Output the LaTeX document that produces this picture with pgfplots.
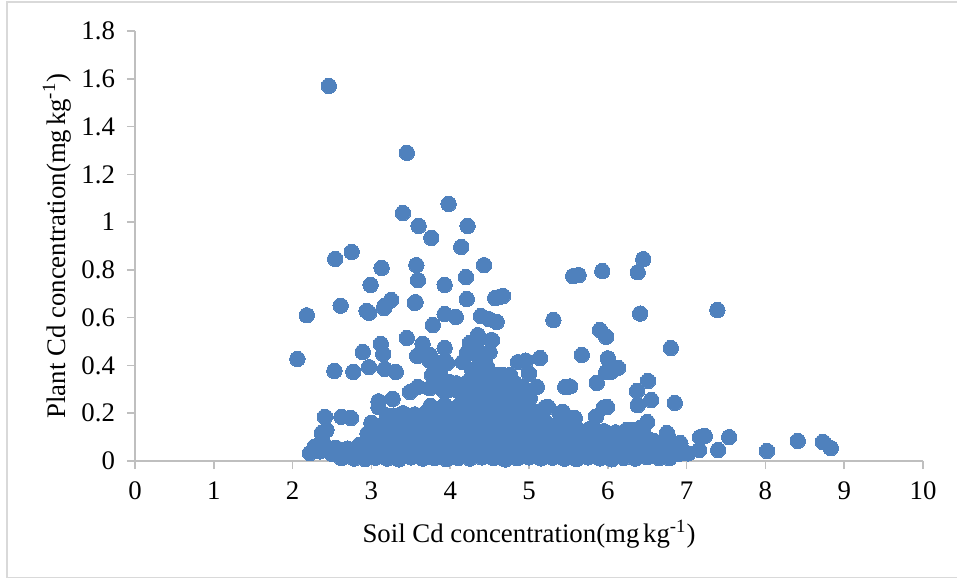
\documentclass[border=0pt]{standalone}
\usepackage{pgfplots}
\pgfplotsset{compat=1.18}
\usepackage{fontspec}
\setmainfont{Liberation Serif}
\definecolor{dot}{HTML}{4F81BD}
\definecolor{axc}{HTML}{BFBFBF}
\definecolor{frm}{HTML}{D9D9D9}
\begin{document}
\begin{tikzpicture}
\useasboundingbox (0pt,0pt) rectangle (478.5pt,289.5pt);
\draw[frm,line width=0.8pt] (478.5pt,288.5pt) -- (3.5pt,288.5pt) -- (3.5pt,0.75pt) -- (478.5pt,0.75pt);
\begin{axis}[
  at={(67.5pt,59pt)},anchor=origin,
  scale only axis,width=394pt,height=215pt,
  xmin=0,xmax=10,ymin=0,ymax=1.8,
  xtick={0,1,...,10},
  ytick={0,0.2,0.4,0.6,0.8,1,1.2,1.4,1.6,1.8},
  yticklabels={0,0.2,0.4,0.6,0.8,1,1.2,1.4,1.6,1.8},
  axis lines=left,
  axis line style={axc,line width=1pt,-},
  tick style={axc,line width=0.8pt},
  tick align=outside,
  major tick length=4pt,
  clip=false,
  /pgf/number format/assume math mode=true,
  tick label style={font=\fontsize{13.4}{15}\selectfont,black},
  xticklabel style={yshift=-3pt},
  yticklabel style={xshift=-2.5pt},
  xlabel={Soil Cd concentration(mg\hspace{0.14em}kg\textsuperscript{-1})},
  ylabel={Plant Cd concentration(mg\hspace{0.14em}kg\textsuperscript{-1})},
  label style={font=\fontsize{13.4}{15}\selectfont,black},
  x label style={at={(axis description cs:0.5,-0.17)},anchor=center},
  y label style={at={(axis description cs:-0.099,0.5)},anchor=center},
]
\addplot[only marks,color=dot,mark=*,mark size=3.85pt,mark options={solid,fill=dot,draw=dot,line width=0pt}] table {
x y
2.46 1.57
3.45 1.29
3.40 1.038
3.98 1.076
3.60 0.984
4.22 0.984
3.76 0.934
4.14 0.896
2.75 0.875
2.54 0.846
3.13 0.808
3.57 0.82
4.43 0.82
4.20 0.77
3.59 0.757
2.99 0.737
3.93 0.737
3.25 0.674
3.17 0.65
3.16 0.64
2.61 0.65
3.56 0.665
3.55 0.662
4.21 0.678
4.57 0.682
4.62 0.686
4.67 0.691
2.94 0.628
2.97 0.62
2.18 0.61
3.93 0.615
4.07 0.603
4.39 0.607
4.49 0.594
4.59 0.582
3.78 0.569
3.45 0.515
4.35 0.519
3.12 0.49
3.65 0.49
4.52 0.506
3.93 0.473
4.31 0.477
2.89 0.456
3.15 0.448
3.58 0.44
3.74 0.444
2.06 0.427
2.53 0.377
2.77 0.373
2.97 0.393
3.17 0.385
3.31 0.373
4.86 0.414
4.96 0.42
5.14 0.431
5.0 0.366
5.31 0.59
5.67 0.444
5.46 0.31
5.52 0.312
5.56 0.774
5.63 0.778
5.93 0.795
6.38 0.79
6.45 0.845
6.41 0.617
7.39 0.632
5.90 0.548
5.98 0.52
6.80 0.473
6.0 0.43
6.13 0.39
6.04 0.373
5.98 0.372
5.86 0.327
6.51 0.335
6.37 0.293
6.55 0.255
6.38 0.234
6.85 0.243
5.99 0.226
5.95 0.224
5.85 0.186
5.58 0.18
5.60 0.138
5.39 0.2
6.5 0.163
6.75 0.117
6.77 0.1
6.24 0.13
6.92 0.075
7.17 0.1
7.23 0.105
7.54 0.1
7.40 0.046
7.16 0.046
7.02 0.032
8.02 0.042
8.41 0.084
8.73 0.08
8.83 0.054
2.41 0.185
2.62 0.185
2.74 0.18
2.37 0.117
2.43 0.13
2.22 0.033
2.28 0.06
3.0 0.16
3.09 0.25
3.09 0.226
3.27 0.26
3.49 0.289
3.59 0.31
3.40 0.2
3.2 0.19
3.7 0.205
3.86 0.213
3.74 0.42
3.85 0.39
3.77 0.36
3.81 0.33
3.74 0.305
3.91 0.297
3.87 0.37
3.87 0.41
3.96 0.41
4.0 0.33
4.08 0.325
4.08 0.297
3.97 0.295
4.35 0.527
4.25 0.494
4.33 0.48
4.53 0.506
4.21 0.452
4.5 0.456
4.16 0.414
4.3 0.45
4.44 0.43
4.47 0.393
4.28 0.38
4.25 0.34
4.38 0.41
4.36 0.34
4.25 0.3
4.38 0.3
4.48 0.34
4.48 0.3
4.66 0.36
4.58 0.36
4.58 0.32
4.70 0.32
4.76 0.36
4.82 0.327
4.92 0.31
5.1 0.31
5.01 0.264
4.85 0.27
4.72 0.27
4.58 0.27
4.45 0.26
5.24 0.226
5.2 0.222
5.43 0.205
2.55 0.055
2.7 0.052
2.85 0.068
2.45 0.05
2.35 0.04
2.4 0.07
2.5 0.03
2.62 0.012
2.78 0.01
2.92 0.008
3.05 0.014
3.2 0.01
3.35 0.007
3.5 0.015
3.65 0.01
3.8 0.012
3.95 0.008
4.1 0.013
4.25 0.01
4.4 0.015
4.55 0.012
4.7 0.006
4.85 0.012
5.0 0.015
5.15 0.011
5.3 0.014
5.45 0.01
5.6 0.008
5.75 0.015
5.9 0.011
6.05 0.007
6.2 0.013
6.35 0.01
6.5 0.016
6.65 0.012
6.78 0.012
6.9 0.03
3.0 0.05
3.15 0.045
3.3 0.05
3.45 0.048
3.6 0.052
3.75 0.046
3.9 0.05
4.05 0.048
4.2 0.052
4.35 0.045
4.5 0.05
4.65 0.048
4.8 0.05
4.95 0.047
5.1 0.052
5.25 0.05
5.4 0.047
5.55 0.05
5.7 0.05
5.85 0.052
6.0 0.048
6.15 0.05
6.3 0.05
6.45 0.047
6.6 0.05
6.75 0.045
6.85 0.06
3.0 0.095
3.15 0.09
3.3 0.09
3.45 0.095
3.6 0.09
3.75 0.092
3.9 0.09
4.05 0.095
4.2 0.09
4.35 0.09
4.5 0.095
4.65 0.09
4.8 0.092
4.95 0.09
5.1 0.095
5.25 0.09
5.4 0.09
5.5 0.085
5.72 0.09
5.85 0.095
6.0 0.09
6.15 0.095
6.3 0.09
6.42 0.095
3.05 0.135
3.2 0.13
3.35 0.135
3.5 0.13
3.65 0.135
3.8 0.13
3.95 0.135
4.1 0.13
4.25 0.135
4.4 0.13
4.55 0.135
4.7 0.13
4.85 0.135
5.0 0.13
5.15 0.135
5.3 0.125
5.42 0.13
5.81 0.142
5.95 0.125
6.1 0.12
6.35 0.12
3.2 0.17
3.35 0.165
3.5 0.17
3.65 0.165
3.8 0.17
3.95 0.17
4.1 0.165
4.25 0.17
4.4 0.17
4.55 0.165
4.7 0.17
4.85 0.165
5.0 0.17
5.12 0.17
3.55 0.195
3.98 0.21
4.12 0.21
4.3 0.21
4.45 0.21
4.6 0.21
4.75 0.21
4.9 0.21
5.05 0.21
5.14 0.2
2.58 0.03
2.7 0.03
2.84 0.03
2.98 0.03
3.12 0.028
3.27 0.03
3.42 0.03
3.57 0.028
3.72 0.03
3.87 0.03
4.02 0.028
4.17 0.03
4.32 0.03
4.47 0.028
4.62 0.03
4.77 0.03
4.92 0.028
5.07 0.03
5.22 0.03
5.37 0.028
5.52 0.03
5.67 0.03
5.82 0.03
5.97 0.028
6.12 0.03
6.27 0.03
6.42 0.028
6.57 0.03
6.72 0.03
2.95 0.07
3.08 0.07
3.23 0.07
3.38 0.07
3.53 0.07
3.68 0.07
3.83 0.07
3.98 0.07
4.13 0.07
4.28 0.07
4.43 0.07
4.58 0.07
4.73 0.07
4.88 0.07
5.03 0.07
5.18 0.07
5.33 0.07
5.48 0.07
5.63 0.07
5.78 0.07
5.93 0.07
6.08 0.07
6.23 0.07
6.38 0.07
6.53 0.07
6.68 0.07
6.82 0.05
3.08 0.112
3.23 0.11
3.38 0.112
3.53 0.11
3.68 0.112
3.83 0.11
3.98 0.112
4.13 0.11
4.28 0.112
4.43 0.11
4.58 0.112
4.73 0.11
4.88 0.112
5.03 0.11
5.18 0.112
5.33 0.105
5.45 0.105
5.8 0.11
5.92 0.105
6.07 0.105
6.22 0.105
6.37 0.105
6.5 0.095
6.58 0.085
3.13 0.15
3.28 0.15
3.43 0.15
3.58 0.15
3.73 0.15
3.88 0.15
4.03 0.15
4.18 0.15
4.33 0.15
4.48 0.15
4.63 0.15
4.78 0.15
4.93 0.15
5.08 0.15
3.28 0.19
3.48 0.18
3.62 0.19
3.78 0.19
3.92 0.19
4.05 0.19
4.2 0.19
4.38 0.19
4.53 0.19
4.68 0.19
4.83 0.19
4.98 0.19
4.12 0.235
4.42 0.235
4.55 0.24
4.7 0.24
4.85 0.24
4.95 0.245
4.2 0.265
4.55 0.3
4.68 0.295
4.8 0.295
4.32 0.27
4.42 0.37
4.36 0.37
5.22 0.16
5.15 0.17
5.45 0.165
5.5 0.16
5.52 0.13
5.38 0.16
5.48 0.11
5.6 0.105
5.9 0.09
6.03 0.09
6.28 0.11
6.45 0.12
6.33 0.13
6.42 0.14
6.55 0.065
6.65 0.035
5.7 0.115
5.75 0.13
3.93 0.235
3.75 0.23
2.48 0.045
2.62 0.045
2.77 0.04
2.9 0.05
2.3 0.05
2.95 0.115
};
\end{axis}
\end{tikzpicture}
\end{document}
